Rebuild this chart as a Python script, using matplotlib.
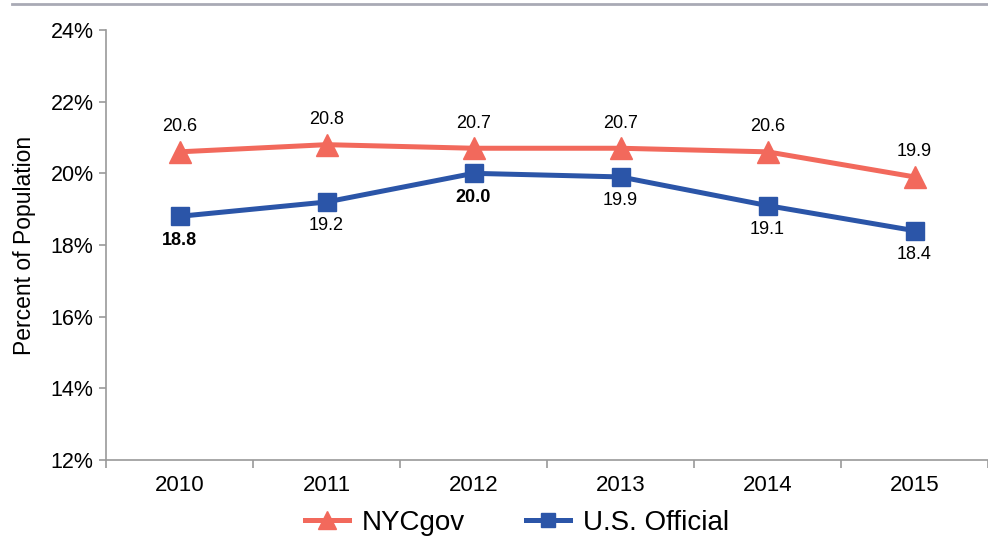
import matplotlib.pyplot as plt
from matplotlib.lines import Line2D

plt.rcParams['font.family'] = ['Liberation Sans', 'DejaVu Sans']

# data
years = ['2010', '2011', '2012', '2013', '2014', '2015']
nycgov = [20.6, 20.8, 20.7, 20.7, 20.6, 19.9]
us_official = [18.8, 19.2, 20.0, 19.9, 19.1, 18.4]
us_bold = [True, False, True, False, False, False]
y_ticks = [12, 14, 16, 18, 20, 22, 24]

red = '#f2695c'
blue = '#2b55a8'
grey = '#9a9a9a'

fig = plt.figure(figsize=(9.88, 5.44), dpi=100)
ax = fig.add_axes([106 / 988, 1 - 460 / 544, 882 / 988, 430 / 544])

x = list(range(len(years)))
ax.plot(x, nycgov, color=red, lw=3.6, marker='^', ms=16, mec=red,
        label='NYCgov', zorder=3)
ax.plot(x, us_official, color=blue, lw=3.6, marker='s', ms=13, mec=blue,
        label='U.S. Official', zorder=3)

for i, v in enumerate(nycgov):
    ax.annotate(f'{v:.1f}', (i, v), xytext=(0, 12), textcoords='offset points',
                ha='center', va='bottom', fontsize=13)
for i, v in enumerate(us_official):
    ax.annotate(f'{v:.1f}', (i, v), xytext=(0, -11), textcoords='offset points',
                ha='center', va='top', fontsize=13,
                fontweight='bold' if us_bold[i] else 'normal')

ax.set_xlim(-0.5, len(years) - 0.5)
ax.set_ylim(12, 24)
ax.set_yticks(y_ticks)
ax.set_yticklabels([f'{t}%' for t in y_ticks], fontsize=15.5)
ax.set_xticks(x)
ax.set_xticklabels(years, fontsize=16)
ax.tick_params(axis='x', length=0, pad=11)
ax.set_xticks([i + 0.5 for i in range(-1, len(years))], minor=True)
ax.tick_params(axis='x', which='minor', length=6, color=grey, width=1.2)
ax.tick_params(axis='y', length=5, color=grey, width=1.2, pad=4)

for s in ['top', 'right']:
    ax.spines[s].set_visible(False)
for s in ['left', 'bottom']:
    ax.spines[s].set_color(grey)
    ax.spines[s].set_linewidth(1.2)

ax.set_ylabel('Percent of Population', fontsize=16.5, labelpad=10)

# rule along the top edge
fig.add_artist(Line2D([12 / 988, 1], [1 - 4 / 544] * 2, color='#a9aab5', lw=2))

handles, labels = ax.get_legend_handles_labels()
fig.legend(handles, labels, loc='center', bbox_to_anchor=(0.523, 1 - 523 / 544),
           ncol=2, frameon=False, fontsize=20, handlelength=1.6,
           handletextpad=0.45, columnspacing=2.2, markerscale=0.8)

fig.savefig('out.png', dpi=100)
